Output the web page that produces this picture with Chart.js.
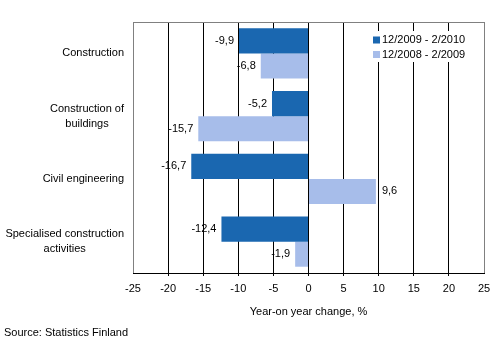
<!DOCTYPE html>
<html><head><meta charset="utf-8">
<script src="https://cdn.jsdelivr.net/npm/chart.js@4"></script>
<style>html,body{margin:0;padding:0;background:#fff}#w{width:500px;height:355px}</style>
</head><body><div id="w"><canvas id="c"></canvas></div>
<script>
const categories = [["Construction"], ["Construction of", "buildings"], ["Civil engineering"], ["Specialised construction", "activities"]];
const seriesNames = ["12/2009 - 2/2010", "12/2008 - 2/2009"];
const series2010 = [-9.9, -5.2, -16.7, -12.4];
const series2009 = [-6.8, -15.7, 9.6, -1.9];
const xTicks = [-25, -20, -15, -10, -5, 0, 5, 10, 15, 20, 25];
const colors = ["#1A67B0", "#A7BDEA"];
const FONT = "11px 'Liberation Sans', Arial, sans-serif";

const fmt = v => String(v).replace('.', ',');

const custom = {
  id: 'custom',
  beforeDatasetsDraw(chart) {
    const ctx = chart.ctx, a = chart.chartArea;
    ctx.save();
    ctx.strokeStyle = '#808080'; ctx.lineWidth = 1;
    ctx.beginPath();
    ctx.moveTo(Math.round(a.left) + 0.5, a.bottom);
    ctx.lineTo(Math.round(a.left) + 0.5, Math.round(a.top) + 0.5);
    ctx.lineTo(Math.round(a.right) + 0.5, Math.round(a.top) + 0.5);
    ctx.lineTo(Math.round(a.right) + 0.5, a.bottom);
    ctx.stroke();
    ctx.restore();
  },
  afterDatasetsDraw(chart) {
    const ctx = chart.ctx, a = chart.chartArea;
    ctx.save();
    ctx.font = FONT; ctx.fillStyle = '#000'; ctx.textBaseline = 'middle';
    chart.data.datasets.forEach((ds, di) => {
      chart.getDatasetMeta(di).data.forEach((bar, i) => {
        const v = ds.data[i];
        if (v < 0) { ctx.textAlign = 'right'; ctx.fillText(fmt(v), bar.x - 5, bar.y); }
        else { ctx.textAlign = 'left'; ctx.fillText(fmt(v), bar.x + 6, bar.y); }
      });
    });
    // category labels
    const ys = chart.scales.y;
    categories.forEach((lines, i) => {
      const cy = ys.getPixelForValue(i);
      let w = 0; lines.forEach(l => { w = Math.max(w, ctx.measureText(l).width); });
      const cx = 124 - w / 2;
      ctx.textAlign = 'center';
      const lh = 15;
      lines.forEach((l, k) => {
        ctx.fillText(l, cx, cy + (k - (lines.length - 1) / 2) * lh);
      });
    });
    // legend
    ctx.fillStyle = '#fff';
    ctx.fillRect(370, 31, 96, 31);
    seriesNames.forEach((n, k) => {
      const y = 40 + k * 14.5;
      ctx.fillStyle = colors[k];
      ctx.fillRect(373, y - 3.5, 7, 7);
      ctx.fillStyle = '#000'; ctx.textAlign = 'left';
      ctx.fillText(n, 382, y);
    });
    // source
    ctx.textAlign = 'left';
    ctx.fillText("Source: Statistics Finland", 4, 333);
    ctx.restore();
  }
};

const isEnd = c => c.tick && (c.tick.value === -25 || c.tick.value === 25);

new Chart(document.getElementById('c'), {
  type: 'bar',
  data: {
    labels: categories,
    datasets: [
      { label: seriesNames[0], data: series2010, backgroundColor: colors[0], categoryPercentage: 0.8, barPercentage: 1.0 },
      { label: seriesNames[1], data: series2009, backgroundColor: colors[1], categoryPercentage: 0.8, barPercentage: 1.0 }
    ]
  },
  options: {
    indexAxis: 'y',
    responsive: true, maintainAspectRatio: false, animation: false,
    devicePixelRatio: 1,
    layout: { padding: { left: 0, top: 22, right: 16, bottom: 0 } },
    plugins: { legend: { display: false }, tooltip: { enabled: false } },
    scales: {
      x: {
        type: 'linear', min: -25, max: 25,
        afterBuildTicks: s => { s.ticks = xTicks.map(v => ({ value: v })); },
        afterFit: s => { s.height = 82; },
        grid: {
          color: c => isEnd(c) ? '#808080' : '#000',
          tickColor: c => isEnd(c) ? 'rgba(0,0,0,0)' : '#000',
          tickLength: 3, drawOnChartArea: true
        },
        border: { color: '#000' },
        ticks: { color: '#000', font: { family: "'Liberation Sans', Arial, sans-serif", size: 11 }, padding: 6, maxRotation: 0, autoSkip: false },
        title: { display: true, text: 'Year-on year change, %', color: '#000', font: { family: "'Liberation Sans', Arial, sans-serif", size: 11 }, padding: { top: 0, bottom: 36 } }
      },
      y: {
        type: 'category', offset: true,
        afterFit: s => { s.width = 133; },
        grid: { display: false },
        border: { display: false },
        ticks: { display: false }
      }
    }
  },
  plugins: [custom]
});
</script></body></html>
